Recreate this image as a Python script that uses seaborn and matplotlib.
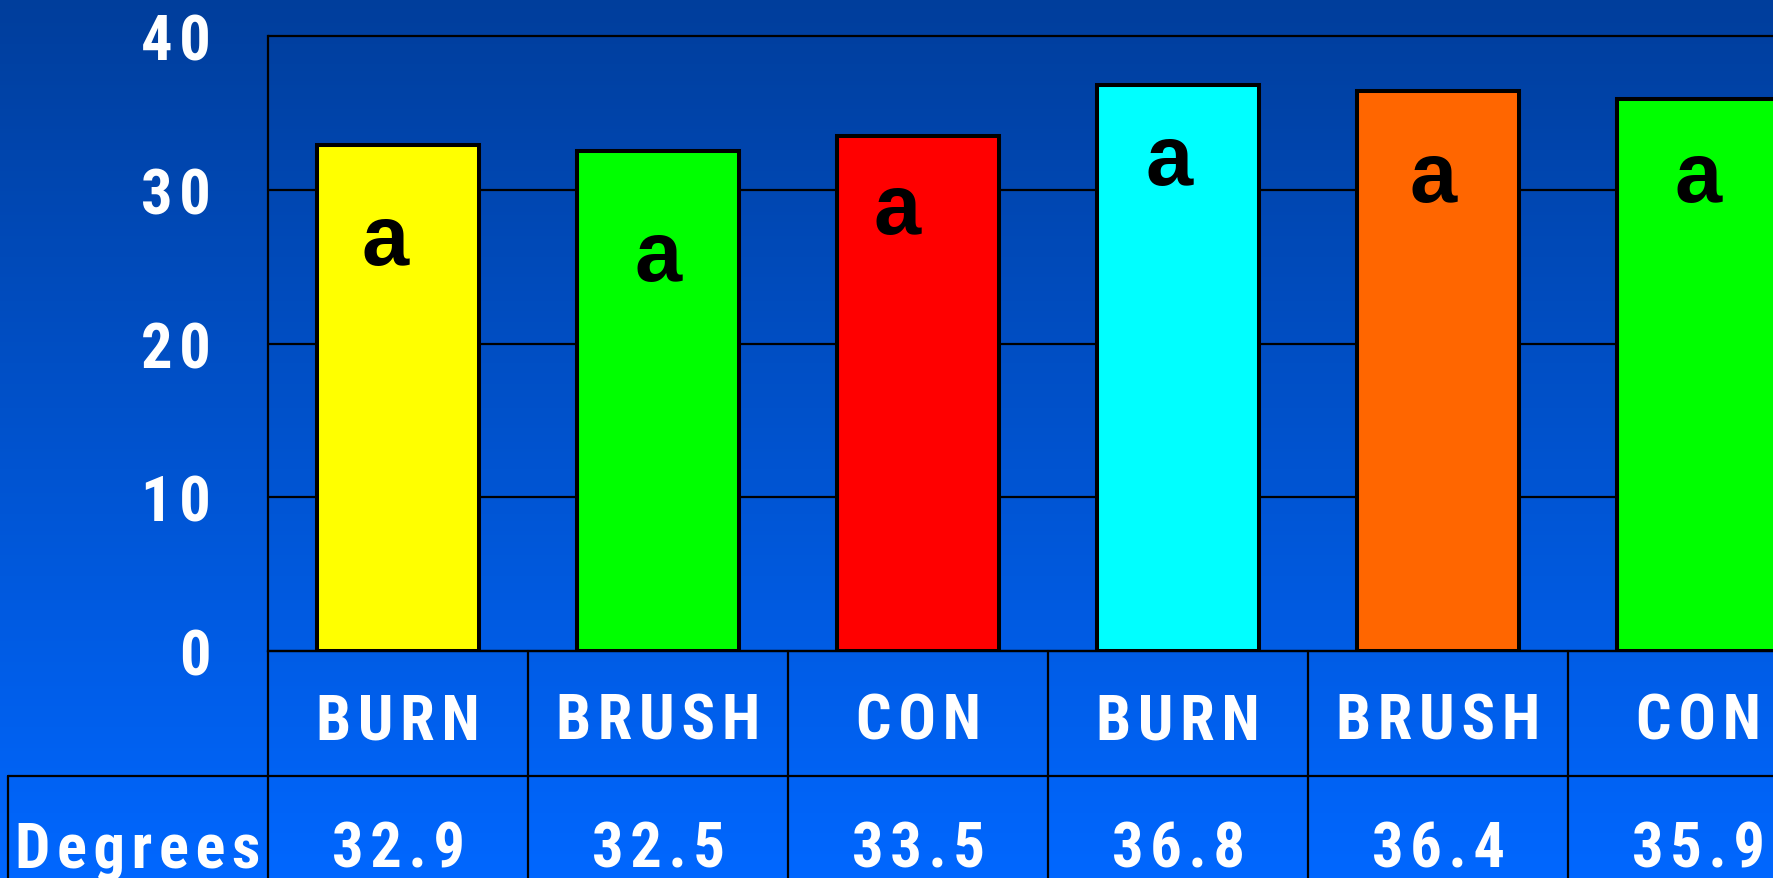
import numpy as np
import pandas as pd
import matplotlib
matplotlib.use("Agg")
import matplotlib.pyplot as plt
from matplotlib.colors import LinearSegmentedColormap
import seaborn as sns

# data
treatments = ["BURN", "BRUSH", "CON", "BURN", "BRUSH", "CON"]
degrees = [32.9, 32.5, 33.5, 36.8, 36.4, 35.9]
letters = ["a", "a", "a", "a", "a", "a"]
bar_colors = ["#FFFF00", "#00FF00", "#FF0000", "#00FFFF", "#FF6600", "#00FF00"]
y_ticks = [0, 10, 20, 30, 40]
row_title = "Degrees"

# where the significance letters sit: drop below bar top, sideways nudge
letter_drop = [7.7, 8.4, 6.3, 6.4, 7.1, 6.6]
letter_nudge = [-0.05, 0.0, -0.08, -0.035, -0.02, 0.0]

COND = ["Roboto Condensed", "Liberation Sans", "DejaVu Sans"]
PLAIN = ["Liberation Sans", "DejaVu Sans"]
TOP_BLUE = "#003E9C"
BOT_BLUE = "#0067FF"
TXT = 45


def spaced(s):
    # slide text is letter-spaced
    return "\u200a".join(s)


sns.set_style("white")
plt.rcParams["font.family"] = COND

W, H = 1773, 879
fig = plt.figure(figsize=(W / 100, H / 100), dpi=100)

# gradient background over the whole slide
bg = fig.add_axes([0, 0, 1, 1], zorder=-10)
grad = LinearSegmentedColormap.from_list("slide", [BOT_BLUE, TOP_BLUE])
bg.imshow(np.linspace(0, 1, 256).reshape(-1, 1), aspect="auto", cmap=grad,
          origin="lower", extent=[0, 1, 0, 1])
bg.axis("off")

ax_left, ax_bottom, ax_right, ax_top = 268, 652, W, 37
ax = fig.add_axes([ax_left / W, (H - ax_bottom) / H,
                   (ax_right - ax_left) / W, (ax_bottom - ax_top) / H])
ax.set_facecolor("none")

df = pd.DataFrame({"slot": [str(i) for i in range(len(degrees))],
                   "treatment": treatments,
                   "degrees": degrees})

sns.barplot(data=df, x="slot", y="degrees", hue="slot", palette=bar_colors,
            saturation=1, width=0.62, edgecolor="black", linewidth=2.9,
            legend=False, ax=ax)

col_px = 260
ax.set_xlim(-0.5, -0.5 + (ax_right - ax_left) / col_px)
ax.set_ylim(0, 40)
ax.set_yticks(y_ticks)
ax.set_yticklabels([spaced(str(t)) for t in y_ticks])
ax.set_xticks([])
ax.set_xlabel("")
ax.set_ylabel("")
ax.yaxis.grid(True, color="black", linewidth=1.6)
ax.set_axisbelow(True)
for gl in ax.get_ygridlines():
    gl.set_clip_on(False)
ax.tick_params(axis="y", length=14, width=1.4, color="black", pad=27,
               labelsize=TXT, labelcolor="white")
for lab in ax.get_yticklabels():
    lab.set_fontweight("bold")
ax.spines[["top", "right"]].set_visible(False)
for side in ["left", "bottom"]:
    ax.spines[side].set_color("black")
    ax.spines[side].set_linewidth(1.6)

# significance letters inside bars
for i, (v, l) in enumerate(zip(degrees, letters)):
    ax.text(i + letter_nudge[i], v - letter_drop[i], l, ha="center", va="baseline",
            fontsize=61, fontweight="bold", family=PLAIN, color="black")

# data table under the axis (x in data units, y in axes fraction)
trans = ax.get_xaxis_transform()
ax_h = ax_bottom - ax_top
row1 = -(777 - ax_bottom) / ax_h
row_end = -(H - ax_bottom + 20) / ax_h
name_base = -(740 - ax_bottom) / ax_h
val_base = -(868 - ax_bottom) / ax_h

n = len(degrees)
lk = dict(color="black", linewidth=1.6, transform=trans, clip_on=False)
for k in range(n + 1):
    ax.plot([k - 0.5, k - 0.5], [0, row_end], **lk)
ax.plot([-1.5, -1.5], [row1, row_end], **lk)
ax.plot([-1.5, n + 0.5], [row1, row1], **lk)

for i, (t, v) in enumerate(zip(treatments, degrees)):
    ax.text(i, name_base, spaced(t), transform=trans, ha="center", va="baseline",
            fontsize=TXT, fontweight="bold", color="white", clip_on=False)
    ax.text(i, val_base, spaced(f"{v:.1f}"), transform=trans, ha="center",
            va="baseline", fontsize=TXT, fontweight="bold", color="white",
            clip_on=False)
ax.text(-1, val_base, spaced(row_title), transform=trans, ha="center",
        va="baseline", fontsize=TXT, fontweight="bold", color="white",
        clip_on=False)

fig.savefig("out.png", dpi=100)
